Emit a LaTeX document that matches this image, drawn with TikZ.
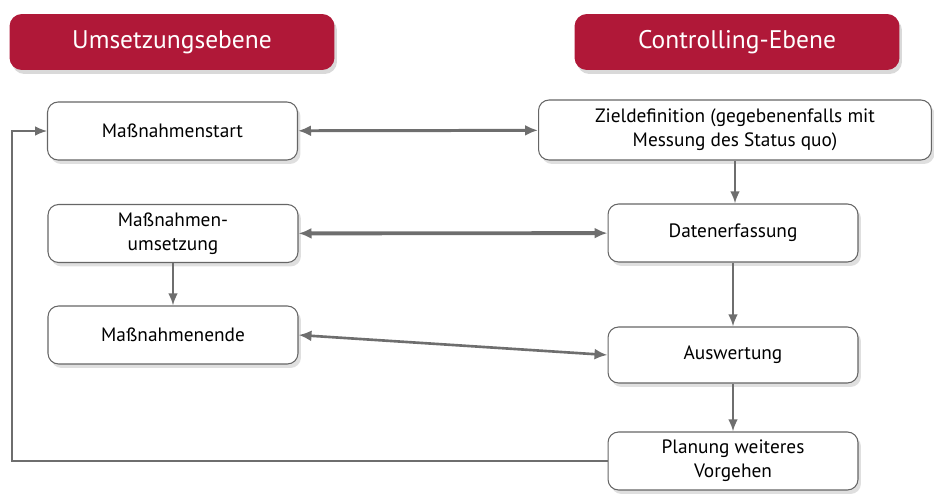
\documentclass[tikz,border=0pt]{standalone}
\usepackage{fontspec}
\setmainfont{PT Sans}
\usetikzlibrary{arrows.meta,shadows}

\definecolor{ebenerot}{RGB}{176,24,56}
\definecolor{pfeilgrau}{RGB}{110,110,110}

\begin{document}
\begin{tikzpicture}[x=0.02cm,y=-0.02cm,
    ebene/.style={fill=ebenerot,rounded corners=7pt,minimum width=6.5cm,minimum height=1.12cm,
      text=white,font=\fontsize{14.5}{17}\selectfont,drop shadow={opacity=0.3,shadow xshift=0.5mm,shadow yshift=-0.8mm}},
    schritt/.style={draw=black!60,fill=white,rounded corners=6pt,line width=0.6pt,minimum height=1.16cm,
      minimum width=5cm,align=center,font=\fontsize{11}{13.5}\selectfont,
      drop shadow={opacity=0.25,shadow xshift=0.6mm,shadow yshift=-0.8mm}},
    verbindung/.style={draw=pfeilgrau,{Latex[length=2.6mm,width=2.2mm]}-{Latex[length=2.6mm,width=2.2mm]}},
    folge/.style={draw=pfeilgrau,line width=1.2pt,-{Latex[length=2.4mm,width=1.9mm]}}]
  \useasboundingbox (0,0) rectangle (934,494);
  \draw
    (172,42) node[ebene] (ume){Umsetzungsebene}
    (737,42) node[ebene] (con){Controlling-Ebene}
    (172.5,131) node[schritt] (start){Maßnahmenstart}
    (735,130) node[schritt,minimum width=7.86cm,minimum height=1.2cm] (ziel){Zieldefinition (gegebenenfalls mit\\Messung des Status quo)}
    (173,233.5) node[schritt] (umsetz){Maßnahmen-\\umsetzung}
    (733,233) node[schritt] (daten){Datenerfassung}
    (733,355) node[schritt,minimum height=1.12cm] (ausw){Auswertung}
    (173,335) node[schritt] (ende){Maßnahmenende}
    (733,461) node[schritt] (plan){Planung weiteres\\Vorgehen};
  \coordinate (rueck) at (12,461);
  \begin{scope}[verbindung]
    \draw[line width=1.7pt] (start) -- (ziel);
    \draw[line width=2.2pt] (umsetz) -- (daten);
    \draw[line width=1.5pt] (ende.east) -- (ausw.west);
  \end{scope}
  \begin{scope}[folge]
    \draw (ziel.south) -- (ziel.south |- daten.north);
    \draw (daten) -- (ausw);
    \draw (ausw) -- (plan);
    \draw (umsetz) -- (ende);
    \draw[line width=0.7pt] (plan.west) -- (rueck) |- (start.west);
  \end{scope}
\end{tikzpicture}
\end{document}
